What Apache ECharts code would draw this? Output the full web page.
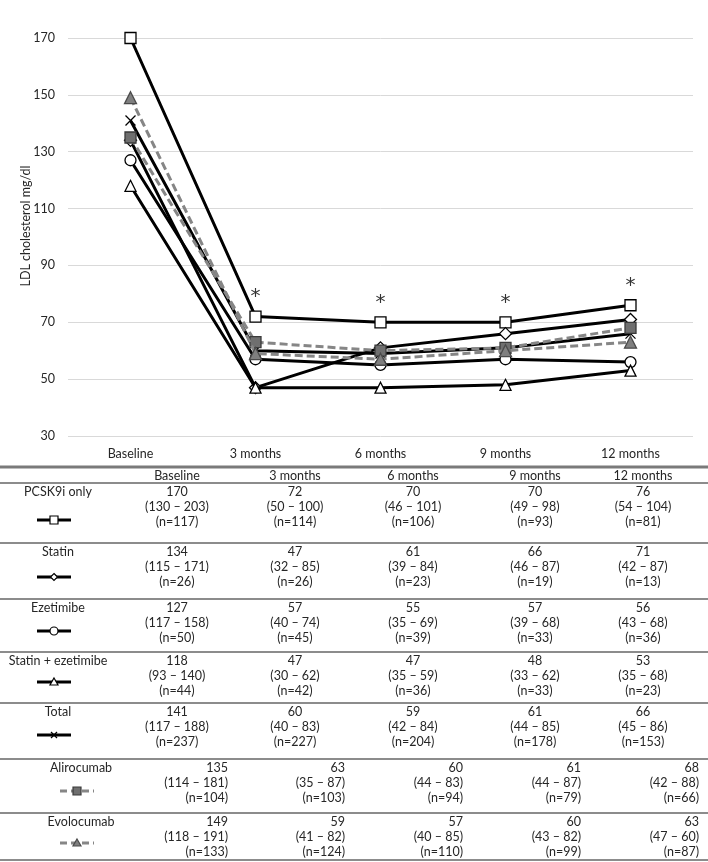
<!DOCTYPE html>
<html><head><meta charset="utf-8">
<script src="https://cdn.jsdelivr.net/npm/echarts@6/dist/echarts.min.js"></script>
<style>html,body{margin:0;padding:0;background:#fff}#c{width:708px;height:862px}</style>
</head><body><div id="c"></div>
<script>
// ---------- DATA ----------
const categories = ['Baseline', '3 months', '6 months', '9 months', '12 months'];
const seriesNames = ['PCSK9i only', 'Statin', 'Ezetimibe', 'Statin + ezetimibe', 'Total', 'Alirocumab', 'Evolocumab'];

const pcsk9iOnly      = [170, 72, 70, 70, 76];
const statin          = [134, 47, 61, 66, 71];
const ezetimibe       = [127, 57, 55, 57, 56];
const statinEzetimibe = [118, 47, 47, 48, 53];
const total           = [141, 60, 59, 61, 66];
const alirocumab      = [135, 63, 60, 61, 68];
const evolocumab      = [149, 59, 57, 60, 63];

const pcsk9iOnlyLow  = [130, 50, 46, 49, 54], pcsk9iOnlyHigh  = [203, 100, 101, 98, 104], pcsk9iOnlyN  = [117, 114, 106, 93, 81];
const statinLow      = [115, 32, 39, 46, 42], statinHigh      = [171, 85, 84, 87, 87],    statinN      = [26, 26, 23, 19, 13];
const ezetimibeLow   = [117, 40, 35, 39, 43], ezetimibeHigh   = [158, 74, 69, 68, 68],    ezetimibeN   = [50, 45, 39, 33, 36];
const statinEzeLow   = [93, 30, 35, 33, 35],  statinEzeHigh   = [140, 62, 59, 62, 68],    statinEzeN   = [44, 42, 36, 33, 23];
const totalLow       = [117, 40, 42, 44, 45], totalHigh       = [188, 83, 84, 85, 86],    totalN       = [237, 227, 204, 178, 153];
const alirocumabLow  = [114, 35, 44, 44, 42], alirocumabHigh  = [181, 87, 83, 87, 88],    alirocumabN  = [104, 103, 94, 79, 66];
const evolocumabLow  = [118, 41, 40, 43, 47], evolocumabHigh  = [191, 82, 85, 82, 60],    evolocumabN  = [133, 124, 110, 99, 87];

const asteriskCategories = ['3 months', '6 months', '9 months', '12 months'];
const yTicks = { min: 30, max: 170, interval: 20 };
const yAxisTitle = 'LDL cholesterol mg/dl';

// ---------- STYLE / LAYOUT ----------
const FONT = 'Lato, "Open Sans", sans-serif';
const TXT = '#262626';
const medians = [pcsk9iOnly, statin, ezetimibe, statinEzetimibe, total, alirocumab, evolocumab];
const lows  = [pcsk9iOnlyLow, statinLow, ezetimibeLow, statinEzeLow, totalLow, alirocumabLow, evolocumabLow];
const highs = [pcsk9iOnlyHigh, statinHigh, ezetimibeHigh, statinEzeHigh, totalHigh, alirocumabHigh, evolocumabHigh];
const ns    = [pcsk9iOnlyN, statinN, ezetimibeN, statinEzeN, totalN, alirocumabN, evolocumabN];

const xPath = 'path://M0,0L10,10M0,10L10,0';
const styles = [
  { symbol: 'rect',     size: 11, fill: '#fff',     border: '#000', line: '#000', dash: 'solid' },
  { symbol: 'diamond',  size: 12, fill: '#fff',     border: '#000', line: '#000', dash: 'solid' },
  { symbol: 'circle',   size: 11, fill: '#fff',     border: '#000', line: '#000', dash: 'solid' },
  { symbol: 'triangle', size: 11, fill: '#fff',     border: '#000', line: '#000', dash: 'solid' },
  { symbol: xPath,      size: 10, fill: 'rgba(0,0,0,0)', border: '#000', line: '#000', dash: 'solid' },
  { symbol: 'rect',     size: 11, fill: '#6f6f6f',  border: '#3a3a3a', line: '#868686', dash: [8, 4] },
  { symbol: 'triangle', size: 12, fill: '#7f7f7f',  border: '#4a4a4a', line: '#868686', dash: [8, 4] }
];

const series = seriesNames.map((name, i) => {
  const s = styles[i];
  const o = {
    name, type: 'line', data: medians[i],
    symbol: s.symbol, symbolSize: s.size, showAllSymbol: true,
    lineStyle: { color: s.line, width: 3, type: s.dash },
    itemStyle: { color: s.fill, borderColor: s.border, borderWidth: 1.3 },
    emphasis: { disabled: true }, animation: false, z: 3 + i
  };
  if (i === 0) {
    o.markPoint = {
      symbol: 'circle', symbolSize: 1,
      itemStyle: { color: 'rgba(0,0,0,0)' },
      label: { show: true, formatter: '*', position: 'top', distance: 9, fontSize: 20, color: '#333', fontFamily: 'DejaVu Sans, sans-serif', fontWeight: 'normal' },
      data: asteriskCategories.map(c => ({ coord: [c, pcsk9iOnly[categories.indexOf(c)]] }))
    };
  }
  return o;
});

// ---------- TABLE (graphic) ----------
const g = [];
const rowTops = [483, 543, 599, 652, 703, 759, 813];
const tableTop = 467, tableBottom = 860;
const colCenters = [177, 295, 413, 535, 643];
const colRights = [228, 345, 463, 581, 699];
const legendY = [520, 577, 631, 682, 735, 791, 843];
const lineH = 15.4;
const tStyle = (extra) => Object.assign({ fontFamily: FONT, fontSize: 12.5, fill: TXT, textVerticalAlign: 'middle' }, extra);

// y-axis title
g.push({ type: 'text', x: 26, y: 226, rotation: Math.PI / 2, style: tStyle({ text: yAxisTitle, textAlign: 'center' }) });

g.push({ type: 'line', shape: { x1: 0, y1: tableTop, x2: 708, y2: tableTop }, style: { stroke: '#7a7a7a', lineWidth: 3 } });
rowTops.forEach(y => g.push({ type: 'line', shape: { x1: 0, y1: y, x2: 708, y2: y }, style: { stroke: '#8c8c8c', lineWidth: 2 } }));
g.push({ type: 'line', shape: { x1: 0, y1: tableBottom, x2: 708, y2: tableBottom }, style: { stroke: '#8c8c8c', lineWidth: 2 } });

categories.forEach((c, j) => g.push({ type: 'text', x: colCenters[j], y: 476, style: tStyle({ text: c, textAlign: 'center' }) }));

seriesNames.forEach((name, i) => {
  const top = rowTops[i];
  const grey = i >= 5;
  g.push({ type: 'text', x: grey ? 81 : 58, y: top + 8.5, style: tStyle({ text: name, textAlign: 'center' }) });
  for (let j = 0; j < 5; j++) {
    const x = grey ? colRights[j] : colCenters[j];
    const al = grey ? 'right' : 'center';
    g.push({ type: 'text', x, y: top + 8.5, style: tStyle({ text: String(medians[i][j]), textAlign: al }) });
    g.push({ type: 'text', x, y: top + 8.5 + lineH, style: tStyle({ text: '(' + lows[i][j] + ' \u2013 ' + highs[i][j] + ')', textAlign: al }) });
    g.push({ type: 'text', x, y: top + 8.5 + 2 * lineH, style: tStyle({ text: '(n=' + ns[i][j] + ')', textAlign: al }) });
  }
  // legend glyph
  const ly = legendY[i];
  const cx = grey ? 77 : 54;
  if (!grey) {
    g.push({ type: 'line', shape: { x1: 37, y1: ly, x2: 71, y2: ly }, style: { stroke: '#000', lineWidth: 3 } });
  } else {
    g.push({ type: 'line', shape: { x1: 60, y1: ly, x2: 94, y2: ly }, style: { stroke: '#868686', lineWidth: 3, lineDash: [7, 4] } });
  }
  const st = styles[i];
  const ms = { fill: st.fill, stroke: st.border, lineWidth: 1.2 };
  if (i === 0 || i === 5) g.push({ type: 'rect', shape: { x: cx - 4, y: ly - 4, width: 8, height: 8 }, style: ms, z: 10 });
  if (i === 1) g.push({ type: 'polygon', shape: { points: [[cx, ly - 3.5], [cx + 3.5, ly], [cx, ly + 3.5], [cx - 3.5, ly]] }, style: ms, z: 10 });
  if (i === 2) g.push({ type: 'circle', shape: { cx, cy: ly, r: 4 }, style: ms, z: 10 });
  if (i === 3 || i === 6) g.push({ type: 'polygon', shape: { points: [[cx, ly - 4], [cx + 4, ly + 3], [cx - 4, ly + 3]] }, style: ms, z: 10 });
  if (i === 4) g.push({ type: 'polyline', shape: { points: [[cx - 3, ly - 3], [cx + 3, ly + 3]] }, style: { stroke: '#000', lineWidth: 1.2 }, z: 10 },
                      { type: 'polyline', shape: { points: [[cx - 3, ly + 3], [cx + 3, ly - 3]] }, style: { stroke: '#000', lineWidth: 1.2 }, z: 10 });
});

const chart = echarts.init(document.getElementById('c'), null, { renderer: 'canvas' });
chart.setOption({
  backgroundColor: '#fff',
  animation: false,
  textStyle: { fontFamily: FONT },
  grid: { left: 68, right: 15, top: 38, bottom: 426 },
  xAxis: {
    type: 'category', data: categories, boundaryGap: true,
    axisLine: { show: false }, axisTick: { show: false },
    axisLabel: { color: TXT, fontSize: 12.5, fontFamily: FONT, margin: 11 }
  },
  yAxis: {
    type: 'value', min: yTicks.min, max: yTicks.max, interval: yTicks.interval,
    axisLine: { show: false }, axisTick: { show: false },
    axisLabel: { color: TXT, fontSize: 12.5, fontFamily: FONT, margin: 13 },
    splitLine: { lineStyle: { color: '#d9d9d9', width: 1 } }
  },
  series,
  graphic: g
});
</script></body></html>
